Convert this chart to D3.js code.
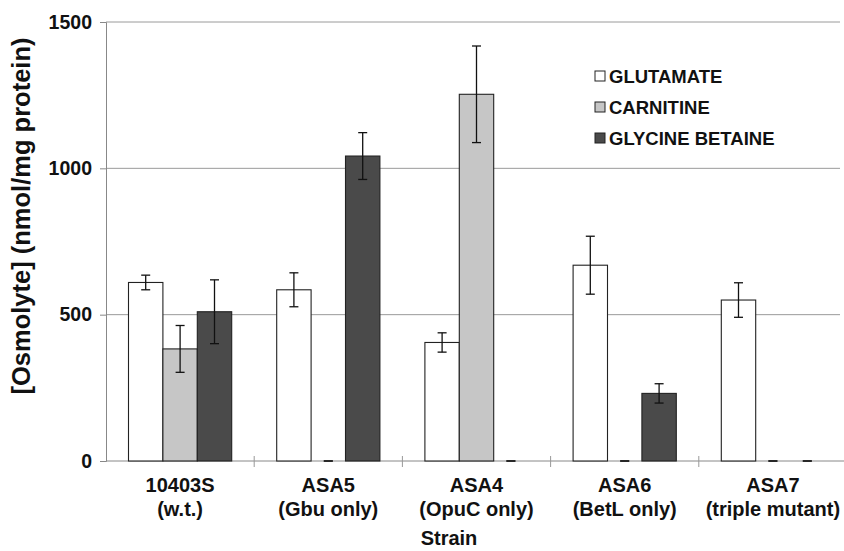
<!DOCTYPE html>
<html><head><meta charset="utf-8">
<script src="https://cdn.jsdelivr.net/npm/d3@7"></script>
<style>body{margin:0;background:#fff}svg{display:block}text{font-family:"Liberation Sans",Arial,Helvetica,sans-serif;font-weight:bold;fill:#111}</style>
</head><body><svg id="c" width="844" height="551"></svg>
<script>
const strains = ["10403S", "ASA5", "ASA4", "ASA6", "ASA7"];
const strainSub = ["(w.t.)", "(Gbu only)", "(OpuC only)", "(BetL only)", "(triple mutant)"];
const series = ["GLUTAMATE", "CARNITINE", "GLYCINE BETAINE"];
const glutamate = [610, 585, 405, 669, 550];
const glutamateErr = [25, 58, 33, 99, 59];
const carnitine = [383, 0, 1253, 0, 0];
const carnitineErr = [80, 0, 165, 0, 0];
const glycineBetaine = [510, 1042, 0, 231, 0];
const glycineBetaineErr = [109, 80, 0, 33, 0];
const yTicks = [0, 500, 1000, 1500];
const colors = ["#ffffff", "#c6c6c6", "#4a4a4a"];

const svg = d3.select("#c");
const L = 106, R = 847, T = 22, B = 461;
const x0 = d3.scaleBand().domain(strains).range([L, R]);
const x1 = d3.scaleBand().domain(series).range([22.5, x0.bandwidth() - 22.5]);
const y = d3.scaleLinear().domain([0, 1500]).range([B, T]);
const vals = [glutamate, carnitine, glycineBetaine];
const errs = [glutamateErr, carnitineErr, glycineBetaineErr];
const data = [];
strains.forEach((s, i) => series.forEach((k, j) => data.push({s, k, j, v: vals[j][i], e: errs[j][i]})));

// gridlines
svg.append("g").selectAll("line").data(yTicks.filter(d => d > 0)).join("line")
  .attr("x1", L).attr("x2", 840).attr("y1", d => y(d)).attr("y2", d => y(d))
  .attr("stroke", "#9a9a9a").attr("stroke-width", 1);

// y axis
const ya = svg.append("g").attr("transform", `translate(${L},0)`)
  .call(d3.axisLeft(y).tickValues(yTicks).tickSize(6).tickPadding(8).tickFormat(d3.format("d")));
ya.select(".domain").attr("stroke", "#888");
ya.selectAll(".tick line").attr("stroke", "#888");
ya.selectAll(".tick text").style("font-size", "19.5px").attr("fill", "#111");

// x axis baseline + boundary ticks
svg.append("line").attr("x1", L).attr("x2", 844).attr("y1", B).attr("y2", B).attr("stroke", "#888");
svg.append("g").selectAll("line").data(strains.slice(1)).join("line")
  .attr("x1", d => x0(d)).attr("x2", d => x0(d)).attr("y1", B - 5).attr("y2", B + 6)
  .attr("stroke", "#999");

// bars
svg.append("g").selectAll("rect").data(data.filter(d => d.v > 0)).join("rect")
  .attr("x", d => x0(d.s) + x1(d.k)).attr("width", x1.bandwidth())
  .attr("y", d => y(d.v)).attr("height", d => B - y(d.v))
  .attr("fill", d => colors[d.j]).attr("stroke", "#222").attr("stroke-width", 1.1);

// error bars
const eg = svg.append("g").attr("stroke", "#111").attr("stroke-width", 1.3);
data.forEach(d => {
  const cx = x0(d.s) + x1(d.k) + x1.bandwidth() / 2;
  eg.append("line").attr("x1", cx).attr("x2", cx).attr("y1", y(d.v + d.e)).attr("y2", y(d.v - d.e));
  eg.append("line").attr("x1", cx - 4.5).attr("x2", cx + 4.5).attr("y1", y(d.v + d.e)).attr("y2", y(d.v + d.e));
  eg.append("line").attr("x1", cx - 4.5).attr("x2", cx + 4.5).attr("y1", y(d.v - d.e)).attr("y2", y(d.v - d.e));
});

// category labels
const cl = svg.append("g").attr("text-anchor", "middle").style("font-size", "20px");
strains.forEach((s, i) => {
  const cx = x0(s) + x0.bandwidth() / 2;
  cl.append("text").attr("x", cx).attr("y", 492).text(s);
  cl.append("text").attr("x", cx).attr("y", 516).text(strainSub[i]);
});

// axis titles
svg.append("text").attr("x", 449).attr("y", 545).attr("text-anchor", "middle").style("font-size", "20px").text("Strain");
svg.append("text").attr("transform", "translate(30,216) rotate(-90)").attr("text-anchor", "middle")
  .style("font-size", "25.5px").text("[Osmolyte] (nmol/mg protein)");

// legend
const lg = svg.append("g");
series.forEach((k, j) => {
  const cy = 76 + j * 31;
  lg.append("rect").attr("x", 595).attr("y", cy - 5).attr("width", 10).attr("height", 10)
    .attr("fill", colors[j]).attr("stroke", "#222").attr("stroke-width", 1);
  lg.append("text").attr("x", 609).attr("y", cy + 6.5).style("font-size", "18.5px").text(k);
});
</script></body></html>
